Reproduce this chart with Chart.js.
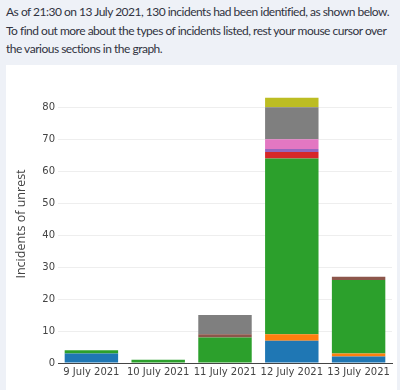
<!DOCTYPE html>
<html>
<head>
<meta charset="utf-8">
<script src="https://cdn.jsdelivr.net/npm/chart.js@4.4.0/dist/chart.umd.min.js"></script>
<style>
  body { margin: 0; background: #eef1f7; width: 400px; height: 390px; overflow: hidden; position: relative; }
  #intro {
    position: absolute; left: 6px; top: 3px; width: 394px; margin: 0;
    font-family: 'Lato', sans-serif; font-size: 12px; letter-spacing: -0.5px;
    line-height: 18.5px; color: #31333f;
  }
  #panel { position: absolute; left: 6px; top: 65px; width: 391px; height: 325px; background: #fff; }
</style>
</head>
<body>
<p id="intro">As of 21:30 on 13 July 2021, 130 incidents had been identified, as shown below. To find out more about the types of incidents listed, rest your mouse cursor over the various sections in the graph.</p>
<div id="panel"><canvas id="incidentChart" width="391" height="325"></canvas></div>
<script>
// days on the x axis
const days = ['9 July 2021', '10 July 2021', '11 July 2021', '12 July 2021', '13 July 2021'];

// incident counts per type, one value per day (bottom of the stack first)
const type1 = [3, 0, 0, 7, 2];
const type2 = [0, 0, 0, 2, 1];
const type3 = [1, 1, 8, 55, 23];
const type4 = [0, 0, 0, 2, 0];
const type5 = [0, 0, 0, 1, 0];
const type6 = [0, 0, 1, 0, 1];
const type7 = [0, 0, 0, 3, 0];
const type8 = [0, 0, 6, 10, 0];
const type9 = [0, 0, 0, 3, 0];

const yTicks = [0, 10, 20, 30, 40, 50, 60, 70, 80];

const seriesList = [type1, type2, type3, type4, type5, type6, type7, type8, type9];
const palette = ['#1f77b4', '#ff7f0e', '#2ca02c', '#d62728', '#9467bd', '#8c564b', '#e377c2', '#7f7f7f', '#bcbd22'];

const datasets = seriesList.map((vals, i) => ({
    label: 'Type ' + (i + 1),
    data: vals.map(v => v === 0 ? null : v),
    backgroundColor: palette[i],
    borderWidth: 0,
    barPercentage: 0.8,
    categoryPercentage: 1.0
}));

new Chart(document.getElementById('incidentChart'), {
    type: 'bar',
    data: { labels: days, datasets: datasets },
    options: {
        responsive: false,
        animation: false,
        layout: { padding: { top: 20, right: 5, left: 0, bottom: 0 } },
        plugins: {
            legend: { display: false },
            tooltip: { enabled: true }
        },
        scales: {
            x: {
                stacked: true,
                grid: { display: false, drawTicks: false },
                border: { display: true, color: '#444', width: 1 },
                ticks: {
                    padding: 3,
                    color: '#444',
                    maxRotation: 0,
                    autoSkip: false,
                    font: { family: "'DejaVu Sans'", size: 10 }
                },
                afterFit: s => { s.height = 27; }
            },
            y: {
                stacked: true,
                min: 0,
                max: 87,
                grid: { color: '#eeeeee', drawTicks: false },
                border: { display: false },
                afterBuildTicks: s => { s.ticks = yTicks.map(v => ({ value: v })); },
                ticks: {
                    padding: 3,
                    color: '#444',
                    font: { family: "'DejaVu Sans'", size: 10 }
                },
                title: {
                    display: true,
                    text: 'Incidents of unrest',
                    color: '#444',
                    padding: { top: 8, bottom: 0 },
                    font: { family: "'Open Sans'", size: 12.5 }
                },
                afterFit: s => { s.width = 52; }
            }
        }
    }
});
</script>
</body>
</html>
